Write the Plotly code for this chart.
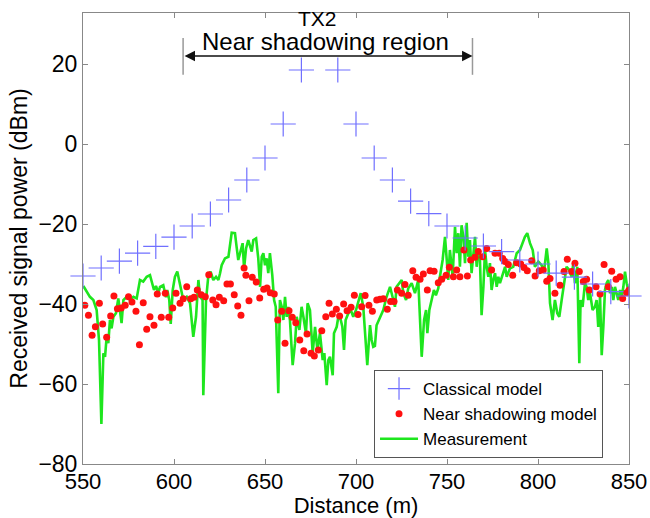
import plotly.graph_objects as go

# ---------------- data ----------------
classical_x = [550, 560, 570, 580, 590, 600, 610, 620, 630, 640, 650, 660, 670,
               690, 700, 710, 720, 730, 740, 750, 760, 770, 780, 790, 800, 810,
               820, 830, 840, 850]
classical_y = [-33, -31, -29.3, -27.3, -25.6, -23.3, -20.5, -17.5, -14, -9, -3.5, 5, 18.5,
               18.5, 5, -3.5, -9, -14.3, -17.4, -20.5, -23.5, -25.5, -26.9, -29, -30, -32.3,
               -33.3, -35, -36.9, -38]

near_x = [551, 553, 555, 556.8, 559, 560.8, 563, 565.2, 567, 568.9, 571, 573.2, 575, 576.9,
          579.1, 581, 583.1, 585, 586.8, 589, 590.8, 593, 595.2, 597.1, 599.3, 601.1, 603.3,
          605.1, 607, 609.2, 611, 612.8, 615, 617.2, 619.1, 621.3, 623.1, 624.9, 627.3, 629.1,
          631, 633.1, 635, 636.8, 638.5, 639.5, 641.2, 643, 645.2, 647.1, 649.3, 651.1, 652.9,
          655.1, 657, 659.2, 661, 663.2, 665, 666.9, 669.1, 671.3, 673.1, 675.3, 677.1, 679.3,
          681.2, 683.4, 685.2, 687, 689.2, 691, 693.2, 695.1, 697.3, 699.1, 701.1, 703.1, 705,
          707.1, 709, 711.4, 713.2, 715, 717.2, 719, 720.9, 722.7, 725.1, 726.9, 728.7, 731.2,
          733, 735.2, 737, 739.2, 740.7, 742.9, 745.2, 747.1, 749.5, 751.3, 753.5, 755.3, 757.1,
          759.3, 761.2, 763, 765.4, 767.2, 769.6, 771.8, 774.5, 776.4, 778.7, 780.6, 781.9,
          783.7, 786.1, 788.3, 790.5, 792.3, 794.1, 796.5, 798.4, 800.7, 802.9, 804.8, 806.6,
          809.3, 812.1, 814.3, 816.1, 818.5, 820.3, 822.7, 824.9, 826.7, 828.2, 831.9, 834.1,
          836.3, 838.6, 840.5, 842.9, 845.1, 846.5, 848.7, 850]
near_y = [-40.3, -42.8, -47.8, -45.7, -39.8, -45, -48.3, -43, -38, -41.2, -41, -40.3, -38.2, -39.5,
          -41.8, -50.2, -39.7, -46.3, -43.2, -45.3, -37.5, -43.3, -37.3, -43.3, -41, -37.3, -39.8,
          -38.7, -35.7, -38.7, -38.3, -36.5, -37.7, -38.2, -32.7, -39, -40.2, -38.3, -39.2, -35,
          -35, -37.7, -40.5, -42.8, -31, -32.8, -39.2, -33.3, -34.5, -38.5, -36.3, -36, -37.2,
          -37.5, -44, -41.8, -49.8, -41.7, -43.3, -44.7, -49, -51.7, -47.5, -52.3, -53, -51.5,
          -46.7, -43.2, -39.8, -42.5, -41.3, -43, -40, -41.7, -40.8, -37.8, -42.6, -40.7, -37.9,
          -40.3, -41.8, -39, -38.8, -38.7, -41.3, -39.4, -39.4, -36.5, -37.3, -35.1, -37.8, -31.7,
          -33.3, -33.8, -32.5, -36.5, -31.7, -31.8, -34.7, -33.8, -32.8, -30.8, -33.2, -31.5, -33.2,
          -26.5, -33, -29, -28.3, -26.9, -28.2, -26.1, -31.5, -27.3, -27.3, -28.6, -29.4,
          -30.1, -32.8, -29.7, -30, -30.9, -31.7, -29.2, -33, -31.7, -31.5, -34.3, -33.6,
          -37.3, -35.3, -31.9, -28.8, -31.9, -29.8, -31.9, -34.4, -33.8, -36.5, -35.7, -37.5,
          -30.1, -35.7, -31.8, -33.8, -33.2, -38.6, -37.2, -36.5]

meas_x = [550.2, 552, 553.8, 555.7, 557.5, 558.8, 560.1, 561.2, 562.1, 563, 563.9, 564.8, 565.7,
          566.7, 568.1, 569.4, 570.3, 571.2, 572.2, 574, 575.8, 577.7, 579.5, 581.3, 583.1, 585,
          586.8, 587.7, 589, 590.1, 591.4, 592.3, 594.1, 595.6, 596.3, 597.4, 598.2, 599.3, 600.5,
          601.8, 602.9, 604.2, 605.1, 607, 608.8, 610.6, 612.1, 613.4, 614.3, 615.7, 616.1, 617.6,
          618.9, 620.1, 621.6, 623.1, 624.4, 625.3, 626.2, 628, 629.9, 631.7, 633.5, 634.4, 635.3,
          636.3, 637.7, 638.5, 639.6, 640.8, 642.7, 643.6, 645.1, 646.3, 647.3, 648.2, 649.1, 650,
          650.9, 651.8, 652.7, 654, 655, 655.9, 657.3, 658.2, 659.2, 660.1, 661, 661.9, 662.8,
          663.7, 665.2, 666.5, 667.4, 668.9, 670.1, 671.1, 672.5, 673.4, 674.7, 676.2, 677.5,
          678.8, 680.2, 681.7, 682.6, 683.9, 684.8, 685.7, 687.2, 687.9, 689.4, 690.3, 691.2,
          692.5, 693.4, 694.3, 695.8, 697.1, 698.5, 700, 701.3, 702.6, 704, 705.5, 706.2, 707.7,
          708.6, 709.5, 710.4, 711.3, 713.2, 715, 716.8, 718.7, 720.5, 721.4, 722.3, 723.8, 725.1,
          726, 727.5, 728.7, 730.6, 732.4, 734.2, 736.1, 737.4, 738.5, 739.2, 740.3, 741.6, 742.8,
          743.9, 745.2, 746.1, 747.6, 748.9, 749.8, 750.7, 751.6, 753.1, 754.4, 755.3, 756.2,
          757.1, 758, 759, 759.9, 760.8, 761.7, 762.6, 763.5, 764.5, 765.4, 766.3, 767.2, 768.1,
          769, 770, 770.9, 771.8, 772.7, 773.6, 774.5, 775.4, 776.4, 777.3, 778.2, 779.1, 780.9,
          781.9, 782.8, 784.6, 786.4, 788.3, 790.1, 791.6, 792.8, 794.1, 795.6, 797.1, 798.3,
          800.2, 802, 803.3, 804.8, 805.7, 806.6, 808, 809.3, 810.6, 811.7, 813, 814.3, 815.7,
          817.2, 818.5, 819.4, 820.3, 821.6, 822.7, 823.4, 824.5, 825.8, 826.7, 827.6, 828.6, 830,
          831.3, 832.2, 833.1, 834.1, 835, 835.9, 836.8, 837.7, 838.6, 839.6, 840.5, 841.4, 842.3,
          843.2, 844.1, 845.1, 846, 846.9, 847.8, 848.7, 849.6]
meas_y = [-35.5, -36.9, -38.2, -39, -41.5, -49, -70, -52.3, -53.2, -48.2, -49.8, -44, -46.1,
          -43.2, -42.3, -38.6, -41.5, -44.8, -39, -38.2, -39, -38.2, -38.6, -34, -34.4, -33.2,
          -32.8, -34.4, -36.5, -35.5, -37.3, -35.7, -35.3, -38.3, -36.5, -39, -45, -36.5, -33.2,
          -31.9, -34.4, -37.8, -39, -38.2, -39.8, -48.2, -43.2, -34, -38.2, -39, -62.8, -39,
          -32.8, -31.9, -34, -33.2, -34, -32.3, -30.3, -28.6, -28.2, -22.2, -22.3, -25.7, -29,
          -27.3, -24.8, -31.1, -26.1, -24, -26.9, -24, -23.6, -28.6, -35.7, -28.2, -27.3, -30.3,
          -28.6, -32.3, -27.3, -32.8, -39, -40.7, -62.3, -39, -40.7, -44, -38.2, -43.2, -40.7,
          -44, -55.3, -49.8, -43.2, -46.5, -40.7, -43.2, -47.3, -39.8, -41.5, -52.3, -45.7,
          -51.5, -47.3, -54, -52.3, -60.3, -54, -53.2, -57.8, -47.3, -45.7, -43.2, -43.2,
          -45.7, -51.5, -44, -42.3, -41.5, -43.2, -41.5, -39.4, -37.3, -40.7, -50.7, -55.3, -45.3,
          -49, -50.7, -50.5, -45.3, -43.2, -41.5, -38.2, -35.7, -39, -40.7, -35.7, -34.8, -34,
          -37.3, -39, -36.1, -34.8, -37.3, -34, -53.2, -44, -41.5, -47.3, -41.5, -39, -36.5,
          -37.8, -36.1, -33.2, -29, -23.2, -28.6, -34, -26.5, -33.2, -20.7, -27.3, -22.3,
          -30.7, -20.3, -23.2, -29.8, -19.7, -28.2, -24, -32.3, -26.5, -23.2, -30.7, -26.5, -29,
          -42.8, -35.7, -26.5, -30.7, -33.2, -29.8, -36.5, -34, -32.3, -35.7, -33.2, -34.8, -32.3,
          -30.7, -33.2, -31.1, -30.7, -27.3, -26.5, -24.8, -23.2, -22.3, -24.8, -26.5, -30.7,
          -29.4, -30.3, -31.9, -26.1, -29.8, -39.8, -44, -39, -42.3, -43.2, -39, -34.8, -30.7,
          -31.5, -33.2, -29.8, -34.8, -30.7, -54.8, -39, -40.7, -34.8, -35.7, -39, -37.3, -41.5,
          -40.7, -39, -45.7, -38.2, -52.8, -45.7, -36.5, -34.8, -34, -37.3, -35.7, -39, -35.7,
          -37.3, -39, -36.5, -38.2, -35.7, -31.9, -34.8, -36.5]

x_ticks = [550, 600, 650, 700, 750, 800, 850]
y_ticks = [-80, -60, -40, -20, 0, 20]

region_start, region_end = 605, 764

FONT = "Arial, Liberation Sans, sans-serif"

fig = go.Figure()
fig.add_trace(go.Scatter(
    x=meas_x, y=meas_y, mode="lines", name="Measurement", legendrank=3,
    line=dict(color="#1ee61e", width=2.6)))
fig.add_trace(go.Scatter(
    x=near_x, y=near_y, mode="markers", name="Near shadowing model", legendrank=2,
    marker=dict(color="#ff1010", size=7, symbol="circle", line=dict(width=0))))
fig.add_trace(go.Scatter(
    x=classical_x, y=classical_y, mode="markers", name="Classical model", legendrank=1,
    cliponaxis=False,
    marker=dict(color="#7070ff", size=18, symbol="cross-thin",
                line=dict(color="#7070ff", width=1.2))))

axis_common = dict(
    showline=True, linecolor="#888888", linewidth=1, mirror="ticks",
    ticks="inside", ticklen=5, tickcolor="#888888", showgrid=False, zeroline=False,
)

fig.update_xaxes(range=[550, 850], tickvals=x_ticks, ticktext=[str(v) for v in x_ticks],
                 tickfont=dict(family=FONT, size=22, color="black"),
                 ticklabelstandoff=-2,
                 title=dict(text="Distance (m)", font=dict(family=FONT, size=22, color="black"),
                            standoff=0),
                 **axis_common)
fig.update_yaxes(range=[-80, 32.75], tickvals=y_ticks,
                 ticktext=[("\u2212" + str(-v)) if v < 0 else str(v) for v in y_ticks],
                 tickfont=dict(family=FONT, size=23, color="black"),
                 title=dict(text="Received signal power (dBm)",
                            font=dict(family=FONT, size=23, color="black"), standoff=4),
                 **axis_common)

# near shadowing region marker
for xv in (region_start, region_end):
    fig.add_shape(type="line", xref="x", yref="y", x0=xv, x1=xv, y0=17.3, y1=26.5,
                  line=dict(color="#999999", width=1.5))
fig.add_annotation(x=region_end, y=22, ax=region_start, ay=22, axref="x", ayref="y",
                   xref="x", yref="y", text="", showarrow=True, arrowside="end+start",
                   arrowhead=2, arrowsize=1.3, arrowwidth=1.6, arrowcolor="#111111")
fig.add_annotation(x=683, y=25.6, xref="x", yref="y", text="Near shadowing region",
                   showarrow=False, font=dict(family=FONT, size=24, color="black"))
fig.add_annotation(x=679, y=31.4, xref="x", yref="y", text="TX2",
                   showarrow=False, font=dict(family=FONT, size=21, color="black"))

fig.update_layout(
    width=650, height=518,
    margin=dict(l=83, r=21, t=13, b=54, autoexpand=False),
    paper_bgcolor="white", plot_bgcolor="white",
    showlegend=True,
    legend=dict(x=0.533, y=0.2084, xanchor="left", yanchor="top",
                bgcolor="white", bordercolor="#555555", borderwidth=1,
                font=dict(family=FONT, size=17, color="black"),
                itemwidth=38, traceorder="normal"),
)

fig.write_html("out.html", config={"displayModeBar": False},
               post_script="document.body.style.margin='0';document.body.style.padding='0';")
